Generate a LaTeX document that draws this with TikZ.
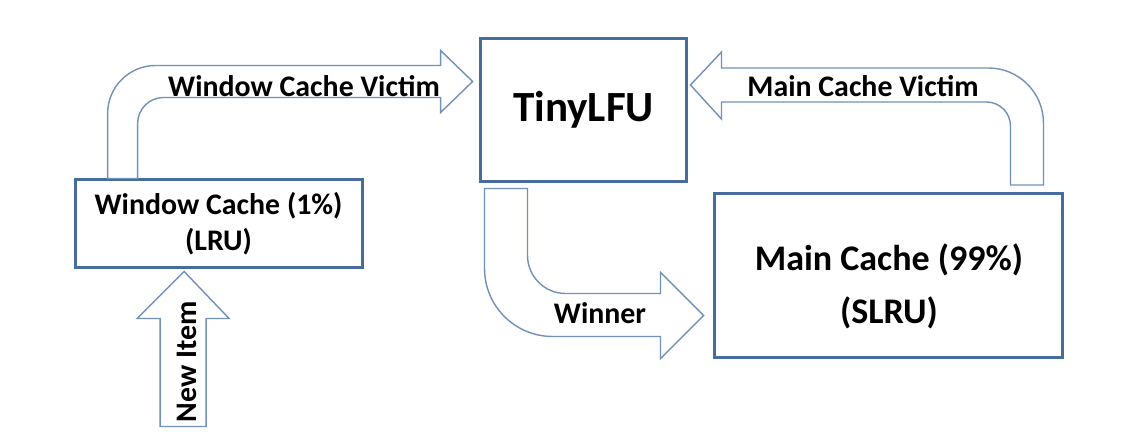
\documentclass[tikz,border=0pt]{standalone}
\usepackage{fontspec}
\setmainfont{Carlito}
\usepackage{xcolor}
\usepackage{tikz}
\usetikzlibrary{positioning, calc}

\definecolor{boxline}{RGB}{70,108,155}
\definecolor{arrowline}{RGB}{112,146,186}

\tikzset{
  cachebox/.style={draw=boxline, line width=1.7pt, fill=white, align=center, inner sep=0pt},
  fatarrow/.style={draw=arrowline, line width=0.8pt, line join=miter, fill=white},
  lbl/.style={draw=none, inner sep=0pt, font=\bfseries\fontsize{17}{20}\selectfont}
}

\begin{document}
\begin{tikzpicture}[x=0.02cm, y=0.02cm, every node/.style={scale=1}]
            \useasboundingbox (0,0) rectangle (1130,444);
            \node[cachebox, minimum width=4.14cm, minimum height=2.88cm, font=\bfseries\fontsize{24.5}{28}\selectfont] (tiny) at (583.5,334) {TinyLFU};
            \node[cachebox, minimum width=5.74cm, minimum height=1.76cm, left=2.3cm of tiny, yshift=-2.28cm, font=\bfseries\fontsize{17}{20.5}\selectfont] (win) {Window Cache (1\%)\\(LRU)};
            \node[cachebox, minimum width=6.96cm, minimum height=3.28cm, right=0.5cm of tiny, yshift=-3.32cm, font=\bfseries\fontsize{20.5}{30.5}\selectfont] (main) {\raisebox{-11pt}[0pt][0pt]{\parbox{6.5cm}{\centering Main Cache (99\%)\\(SLRU)}}};
            % window cache -> tinylfu
            \draw[fatarrow] ($(win.north west)+(34,0)$) -- ++(0,65) arc[start angle=180, end angle=90, radius=48]
                -- ++(285,0) -- ++(0,15) -- ++(32,-31) -- ++(-32,-31) -- ++(0,15) -- ++(-277,0)
                arc[start angle=90, end angle=180, radius=26] -- ++(0,-55) -- cycle;
            % main cache -> tinylfu
            \draw[fatarrow] ($(tiny.east)+(2,25)$) -- ++(31,33) -- ++(0,-16) -- ++(267,0)
                arc[start angle=90, end angle=0, radius=55] -- ++(0,-62) -- ++(-33,0) -- ++(0,59)
                arc[start angle=0, end angle=90, radius=24] -- ++(-265,0) -- ++(0,-17) -- cycle;
            % tinylfu -> main cache
            \draw[fatarrow] ($(tiny.south west)+(6,-5)$) -- ++(0,-80) arc[start angle=180, end angle=270, radius=68]
                -- ++(108,0) -- ++(0,-22) -- ++(43,43) -- ++(-43,43) -- ++(0,-21) -- ++(-95,0)
                arc[start angle=270, end angle=180, radius=38] -- ++(0,67) -- cycle;
            % new item -> window cache
            \draw[fatarrow] ($(win.south)+(-34.5,-2)$) -- ++(45,-47) -- ++(-23,0) -- ++(0,-108)
                -- ++(-46,0) -- ++(0,108) -- ++(-23,0) -- cycle;
            \node[lbl] (wcv) at (304,358) {Window Cache Victim};
            \node[lbl] (mcv) at (863,358) {Main Cache Victim};
            \node[lbl] (winner) at (600,131) {Winner};
            \node[lbl, rotate=90] (newitem) at (187,82) {New Item};
        \end{tikzpicture}
\end{document}
